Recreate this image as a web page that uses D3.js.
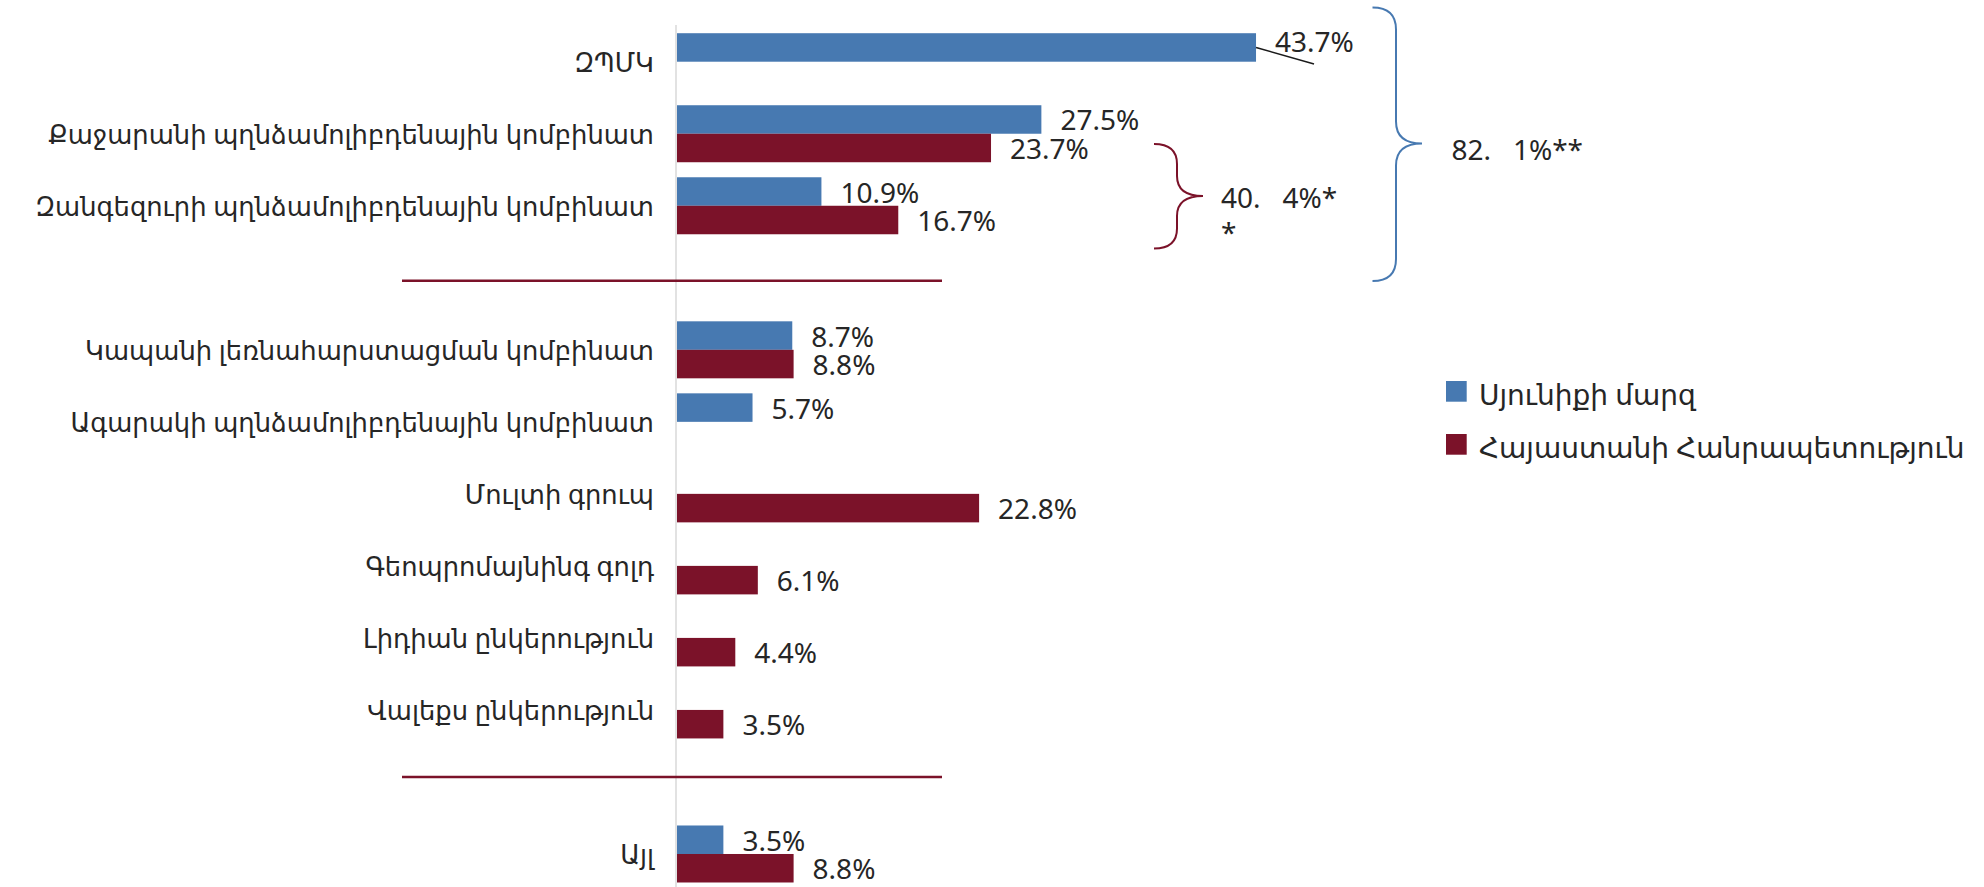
<!DOCTYPE html>
<html>
<head>
<meta charset="utf-8">
<script src="https://cdn.jsdelivr.net/npm/d3@7"></script>
<style>
  html, body { margin: 0; padding: 0; background: #fff; }
  svg text { font-family: "Noto Sans", "DejaVu Sans", sans-serif; fill: #262626; }
</style>
</head>
<body>
<svg id="chart" width="1984" height="887"></svg>
<script>
// ---- data ----
const categories = [
  "ԶՊՄԿ",
  "Քաջարանի պղնձամոլիբդենային կոմբինատ",
  "Զանգեզուրի պղնձամոլիբդենային կոմբինատ",
  "",
  "Կապանի լեռնահարստացման կոմբինատ",
  "Ագարակի պղնձամոլիբդենային կոմբինատ",
  "Մուլտի գրուպ",
  "Գեոպրոմայնինգ գոլդ",
  "Լիդիան ընկերություն",
  "Վալեքս ընկերություն",
  " ",
  "Այլ"
];
const syunikValues  = [43.7, 27.5, 10.9, null, 8.7, 5.7, null, null, null, null, null, 3.5];
const armeniaValues = [null, 23.7, 16.7, null, 8.8, null, 22.8, 6.1, 4.4, 3.5, null, 8.8];
const seriesNames = ["Սյունիքի մարզ", "Հայաստանի Հանրապետություն"];
const seriesColors = ["#4779B1", "#7B1229"];
const groupTotals = ["40.   4%*", "82.   1%**"];

// ---- layout ----
const svg = d3.select("#chart");
const fontSize = 28;
const catFontSize = 25.8;
const x = d3.scaleLinear().domain([0, 50]).range([677, 677 + 662.5]);
const y = d3.scalePoint().domain(categories).range([25.7, 890]).padding(0.5);
const barH = 28.5;

// axis (vertical category axis line)
svg.append("line")
  .attr("x1", 676).attr("x2", 676)
  .attr("y1", 25).attr("y2", 887)
  .attr("stroke", "#D9D9D9").attr("stroke-width", 1.5);

// category labels
svg.append("g").selectAll("text")
  .data(categories.filter(d => d.trim() !== ""))
  .join("text")
  .attr("x", 654)
  .attr("y", d => y(d) + 10)
  .attr("text-anchor", "end")
  .style("font-size", catFontSize + "px")
  .text(d => d);

// bars
const series = [syunikValues, armeniaValues];
series.forEach((vals, si) => {
  const data = categories.map((c, i) => ({c, v: vals[i]})).filter(d => d.v != null);
  svg.append("g").selectAll("rect")
    .data(data)
    .join("rect")
    .attr("x", x(0))
    .attr("y", d => y(d.c) - (si === 0 ? barH : 0))
    .attr("width", d => x(d.v) - x(0))
    .attr("height", barH)
    .attr("fill", seriesColors[si]);

  svg.append("g").selectAll("text")
    .data(data)
    .join("text")
    .attr("x", d => x(d.v) + 19)
    .attr("y", d => {
      const cy = y(d.c) + (si === 0 ? -barH / 2 : barH / 2);
      // first label was moved up in the original (with a leader line)
      return (si === 0 && d.c === categories[0]) ? cy + 4.5 : cy + 11;
    })
    .style("font-size", fontSize + "px")
    .text(d => d.v.toFixed(1) + "%");
});

// leader line for the moved 43.7% label
{
  const xe = x(syunikValues[0]);
  const yc = y(categories[0]) - barH / 2;
  svg.append("line")
    .attr("x1", xe).attr("y1", yc)
    .attr("x2", xe + 58).attr("y2", yc + 16.5)
    .attr("stroke", "#1a1a1a").attr("stroke-width", 1.5);
}

// separators
[[categories[3], 3], [categories[10], -5]].forEach(([c, off]) => {
  svg.append("line")
    .attr("x1", 402).attr("x2", 942)
    .attr("y1", y(c) + off).attr("y2", y(c) + off)
    .attr("stroke", "#7B1229").attr("stroke-width", 2.5);
});

// braces
function brace(x0, xm, xt, y0, ym, y1, r) {
  return `M${x0},${y0} Q${xm},${y0} ${xm},${y0 + r} L${xm},${ym - r} Q${xm},${ym} ${xt},${ym}` +
         ` Q${xm},${ym} ${xm},${ym + r} L${xm},${y1 - r} Q${xm},${y1} ${x0},${y1}`;
}
svg.append("path")
  .attr("d", brace(1154, 1177, 1203, 144, 196, 248.5, 20))
  .attr("fill", "none").attr("stroke", "#7B1229").attr("stroke-width", 2);
svg.append("path")
  .attr("d", brace(1372.5, 1396, 1422, 7.5, 143.5, 281, 22))
  .attr("fill", "none").attr("stroke", "#4779B1").attr("stroke-width", 2);

// group total texts
svg.append("text")
  .attr("x", 1221).attr("y", 208)
  .attr("xml:space", "preserve").style("white-space", "pre")
  .style("font-size", fontSize + "px")
  .text(groupTotals[0]);
svg.append("text")
  .attr("x", 1221).attr("y", 243)
  .style("font-size", fontSize + "px")
  .text("*");
svg.append("text")
  .attr("x", 1451.5).attr("y", 160)
  .attr("xml:space", "preserve").style("white-space", "pre")
  .style("font-size", fontSize + "px")
  .text(groupTotals[1]);

// legend
const legend = svg.append("g").attr("transform", "translate(1446,381)");
seriesNames.forEach((name, i) => {
  const g = legend.append("g").attr("transform", `translate(0,${i * 53})`);
  g.append("rect").attr("width", 20.7).attr("height", 20.7).attr("fill", seriesColors[i]);
  g.append("text").attr("x", 33).attr("y", 24)
    .style("font-size", fontSize + "px").text(name);
});
</script>
</body>
</html>
